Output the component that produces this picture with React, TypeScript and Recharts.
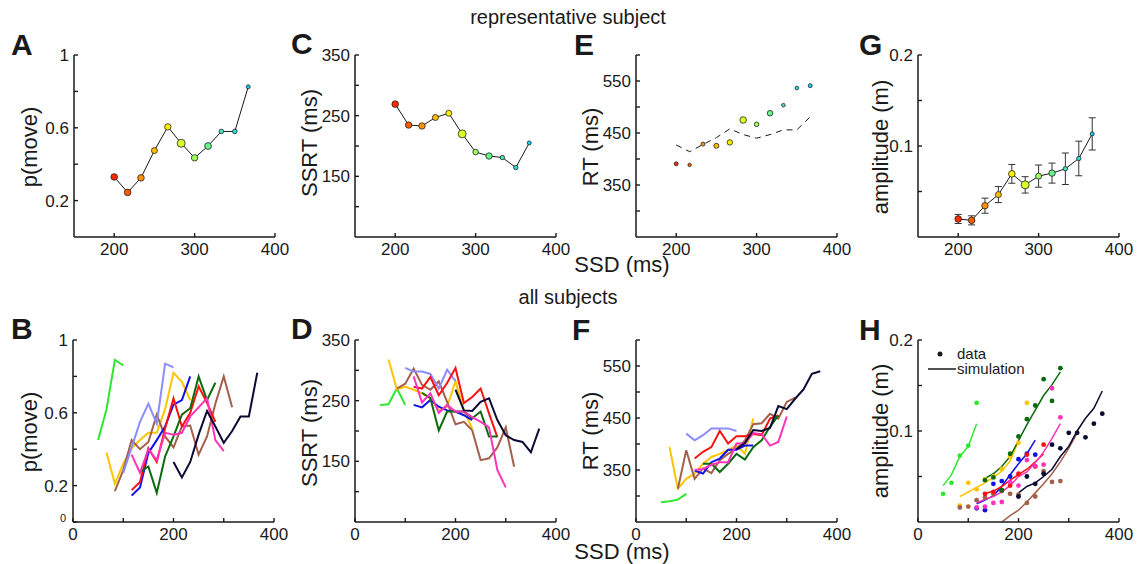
import { ComposedChart, Line, Scatter, XAxis, YAxis, ErrorBar } from 'recharts';

const FONT = '"Liberation Sans", Arial, Helvetica, sans-serif';
const INK = '#1a1a1a';

// ---- representative subject (panels A, C, E, G) ----
const ssd = [200, 216.7, 233.3, 250, 266.7, 283.3, 300, 316.7, 333.3, 350, 366.7];
const ssdColors = ['#ff2a00', '#ff5a00', '#ff9200', '#ffbc00', '#fff000', '#d8ff2a', '#9dff5c', '#68f58a', '#3fe8bd', '#25dcdc', '#18cdf2'];

const pMove = [0.33, 0.245, 0.325, 0.475, 0.605, 0.515, 0.435, 0.5, 0.58, 0.58, 0.825];
const pMoveSize = [3.3, 3.3, 3.3, 3.0, 3.2, 4.0, 3.2, 3.4, 2.3, 2.3, 2.0];

const ssrt = [269, 234.5, 233, 247, 254, 220, 190, 183.5, 181, 164.5, 205];
const ssrtSize = [3.3, 3.2, 3.2, 3.0, 3.0, 4.0, 2.8, 3.2, 2.2, 2.2, 2.0];

const rt = [390.7, 388.7, 428.7, 425.4, 431.9, 475, 466.7, 488, 503.5, 536.5, 541];
const rtSim = [427, 414, 428, 441, 458, 447, 440, 447, 456, 456, 481];
const rtSize = [2.0, 1.7, 2.0, 2.5, 2.7, 3.3, 2.3, 2.8, 1.8, 1.8, 2.0];

const amplitude = [0.0198, 0.0183, 0.0344, 0.0466, 0.0694, 0.0573, 0.0669, 0.0702, 0.075, 0.0863, 0.1133];
const amplitudeErr = [0.005, 0.005, 0.0083, 0.0088, 0.0103, 0.009, 0.0122, 0.011, 0.0173, 0.019, 0.0177];
const amplitudeSize = [3.3, 3.3, 3.2, 3.0, 3.3, 4.0, 3.0, 3.2, 2.2, 2.2, 2.0];

// ---- all subjects (panels B, D, F, H) ----
const ssdGrid = [50, 66.7, 83.3, 100, 116.7, 133.3, 150, 166.7, 183.3, 200, 216.7, 233.3, 250, 266.7, 283.3, 300, 316.7, 333.3, 350, 366.7];
const subjectColors = ['#2ee82e', '#ffc400', '#a3604b', '#8c8cff', '#1010ee', '#ff1010', '#0b6b0b', '#ff33bb', '#0a0a33'];
const subjectStart = [0, 1, 2, 3, 4, 4, 5, 4, 9];

const pMoveAll = [
  [0.45, 0.62, 0.89, 0.86],
  [0.38, 0.21, 0.32, 0.405, 0.45, 0.49, 0.49, 0.62, 0.82, 0.77, 0.67],
  [0.17, 0.285, 0.45, 0.40, 0.44, 0.59, 0.47, 0.41, 0.525, 0.53, 0.37, 0.47, 0.65, 0.80, 0.63],
  [0.27, 0.41, 0.55, 0.65, 0.54, 0.87, 0.85],
  [0.145, 0.19, 0.38, 0.45, 0.525, 0.645, 0.67, 0.80],
  [0.175, 0.22, 0.405, 0.33, 0.515, 0.68, 0.525, 0.60, 0.745, 0.655, 0.55],
  [0.275, 0.305, 0.16, 0.36, 0.47, 0.59, 0.625, 0.80, 0.67, 0.765],
  [0.37, 0.27, 0.40, 0.34, 0.49, 0.48, 0.49, 0.58, 0.63, 0.68, 0.45, 0.39],
  [0.33, 0.245, 0.33, 0.48, 0.61, 0.525, 0.435, 0.50, 0.58, 0.58, 0.82],
];

const ssrtAll = [
  [243, 244, 270, 243],
  [318, 269, 273, 268, 262, 254, 234, 240, 282, 234, 204],
  [270, 278, 303, 276, 268, 282, 248, 211, 215, 201, 152, 155, 173, 206, 141],
  [304, 298, 298, 294, 270, 301, 282],
  [243, 239, 251, 240, 234, 232, 226, 218],
  [273, 270, 289, 259, 279, 304, 246, 256, 270, 229, 190],
  [263, 254, 201, 232, 232, 232, 221, 232, 191, 191],
  [290, 247, 262, 230, 243, 232, 232, 223, 215, 206, 136, 107],
  [268, 234, 233, 248, 254, 218, 193, 185, 182, 165, 204],
];

const rtAll = [
  [288, 290, 293, 304],
  [394, 314, 333, 343, 362, 375, 381, 388, 397, 381, 449],
  [314, 388, 333, 353, 344, 369, 381, 391, 407, 438, 440, 458, 449, 481, 489],
  [420, 407, 417, 430, 430, 430, 425],
  [349, 343, 365, 372, 389, 389, 397, 397],
  [372, 385, 394, 425, 401, 415, 415, 419, 417, 449, 455],
  [362, 362, 346, 362, 381, 370, 394, 407, 433, 455],
  [350, 352, 360, 365, 365, 401, 401, 421, 419, 397, 404, 453],
  [390, 402, 427, 425, 431, 473, 467, 487, 505, 535, 540],
];

// amplitude: data dots and simulation lines (periwinkle subject has none)
const ampDotStart = [0, 2, 2, 3, 4, 5, 5, 4, 9];
const ampDots = [
  [0.031, 0.043, 0.073, 0.084, 0.131],
  [0.018, 0.043, 0.036, 0.047, 0.05, 0.058, 0.072, 0.087, 0.131],
  [0.016, 0.017, 0.024, 0.027, 0.031, 0.034, 0.031, 0.030, 0.021, 0.028, 0.056, 0.044, 0.045],
  [],
  [0.015, 0.013, 0.042, 0.045, 0.050, 0.069, 0.075, 0.074],
  [0.031, 0.033, 0.035, 0.040, 0.053, 0.074, 0.061, 0.085],
  [0.046, 0.049, 0.035, 0.075, 0.094, 0.113, 0.128, 0.157, 0.133, 0.169],
  [0.016, 0.017, 0.021, 0.022, 0.044, 0.040, 0.068, 0.0615, 0.063, 0.147, 0.115],
  [0.028, 0.050, 0.042, 0.053, 0.085, 0.081, 0.098, 0.098, 0.093, 0.108, 0.119],
];
const ampSimStart = [0, 2, 7, 3, 4, 5, 5, 4, 9];
const ampSim = [
  [0.040, 0.052, 0.072, 0.083, 0.108],
  [0.028, 0.033, 0.038, 0.043, 0.049, 0.056, 0.067, 0.089],
  [0.0, 0.007, 0.013, 0.022, 0.032, 0.042, 0.053, 0.066, 0.081, 0.098],
  [],
  [0.020, 0.024, 0.029, 0.039, 0.052, 0.064, 0.075, 0.090],
  [0.031, 0.034, 0.039, 0.046, 0.052, 0.058, 0.066, 0.075],
  [0.048, 0.053, 0.061, 0.072, 0.0895, 0.107, 0.123, 0.139, 0.151, 0.165],
  [0.021, 0.025, 0.028, 0.033, 0.040, 0.050, 0.055, 0.065, 0.077, 0.092, 0.108],
  [0.032, 0.039, 0.043, 0.050, 0.058, 0.072, 0.083, 0.100, 0.114, 0.125, 0.144],
];

const series = (start: number, vals: number[]) => vals.map((v, i) => ({ ssd: ssdGrid[start + i], v }));

const repData = ssd.map((s, i) => ({
  ssd: s,
  color: ssdColors[i],
  pMove: pMove[i],
  pMoveSize: pMoveSize[i],
  ssrt: ssrt[i],
  ssrtSize: ssrtSize[i],
  rt: rt[i],
  rtSim: rtSim[i],
  rtSize: rtSize[i],
  amp: amplitude[i],
  ampErr: amplitudeErr[i],
  ampSize: amplitudeSize[i],
}));

const MARGIN = { top: 10, right: 22, left: 0, bottom: 0 };
const W = 50 + 201 + MARGIN.right;
const H = MARGIN.top + 182 + 30;

function YTick(props: any) {
  const { x, y, payload, labels, small } = props;
  const v = payload.value;
  const big = labels.includes(v);
  const tiny = small && small.includes(v);
  return (
    <g>
      <line x1={x + 5} x2={x + 9} y1={y} y2={y} stroke={INK} strokeWidth={1.4} />
      {(big || tiny) && (
        <text x={tiny ? x - 2 : x} y={tiny ? y - 4 : y} dy="0.36em" textAnchor="end" fontSize={tiny ? 11 : 17} fontFamily={FONT} fill={INK}>
          {v}
        </text>
      )}
    </g>
  );
}

function XTick(props: any) {
  const { x, y, payload, labels } = props;
  const v = payload.value;
  return (
    <g>
      <line x1={x} x2={x} y1={y - 4} y2={y - 8} stroke={INK} strokeWidth={1.4} />
      {labels.includes(v) && (
        <text x={x} y={y + 14} textAnchor="middle" fontSize={17} fontFamily={FONT} fill={INK}>
          {v}
        </text>
      )}
    </g>
  );
}

function axes(bottomRow: boolean, yDomain: number[], yTicks: number[], yLabels: number[], ySmall: number[] = []) {
  const xDomain = bottomRow ? [0, 400] : [150, 400];
  const xTicks = bottomRow ? [0, 100, 200, 300, 400] : [200, 300, 400];
  const xLabels = bottomRow ? [0, 200, 400] : [200, 300, 400];
  return [
    <XAxis
      key="x"
      dataKey="ssd"
      type="number"
      domain={xDomain}
      ticks={xTicks}
      interval={0}
      allowDataOverflow
      height={30}
      tickSize={0}
      tickMargin={4}
      axisLine={{ stroke: INK, strokeWidth: 1.5 }}
      tickLine={false}
      tick={(p: any) => <XTick {...p} labels={xLabels} />}
    />,
    <YAxis
      key="y"
      type="number"
      domain={yDomain}
      ticks={yTicks}
      interval={0}
      allowDataOverflow
      width={50}
      tickSize={0}
      tickMargin={5}
      axisLine={{ stroke: INK, strokeWidth: 1.5 }}
      tickLine={false}
      tick={(p: any) => <YTick {...p} labels={yLabels} small={ySmall} />}
    />,
  ];
}

const box = (plotLeft: number, plotTop: number): React.CSSProperties => ({
  position: 'absolute',
  left: plotLeft - 50,
  top: plotTop - MARGIN.top,
});

const condDot = (sizeKey: string) => (p: any) => (
  <circle key={`d${p.index}`} cx={p.cx} cy={p.cy} r={p.payload[sizeKey]} fill={p.payload.color} stroke="#222" strokeWidth={0.8} />
);

const P_TICKS = [0, 0.2, 0.4, 0.6, 0.8, 1];
const SSRT_TICKS = [100, 150, 200, 250, 300, 350];
const RT_TICKS = [300, 350, 400, 450, 500, 550, 600];
const AMP_TICKS = [0.05, 0.1, 0.15, 0.2];

export default function App() {
  const TOP = 55;
  const BOT = 340;
  return (
    <div style={{ position: 'absolute', left: 0, top: 0, width: 1137, height: 564, background: '#fff', fontFamily: FONT }}>
      {/* A */}
      <div style={box(74, TOP)}>
        <ComposedChart width={W} height={H} data={repData} margin={MARGIN}>
          {axes(false, [0, 1], P_TICKS.slice(1), [0.2, 0.6, 1])}
          <Line dataKey="pMove" stroke={INK} strokeWidth={1} dot={condDot('pMoveSize')} isAnimationActive={false} />
        </ComposedChart>
      </div>
      {/* C */}
      <div style={box(355, TOP)}>
        <ComposedChart width={W} height={H} data={repData} margin={MARGIN}>
          {axes(false, [50, 350], SSRT_TICKS, [150, 250, 350])}
          <Line dataKey="ssrt" stroke={INK} strokeWidth={1} dot={condDot('ssrtSize')} isAnimationActive={false} />
        </ComposedChart>
      </div>
      {/* E */}
      <div style={box(636, TOP)}>
        <ComposedChart width={W} height={H} data={repData} margin={MARGIN}>
          {axes(false, [250, 600], RT_TICKS, [350, 450, 550])}
          <Line dataKey="rtSim" stroke={INK} strokeWidth={1} strokeDasharray="6 5" dot={false} isAnimationActive={false} />
          <Scatter dataKey="rt" shape={condDot('rtSize')} isAnimationActive={false} />
        </ComposedChart>
      </div>
      {/* G */}
      <div style={box(918, TOP)}>
        <ComposedChart width={W} height={H} data={repData} margin={MARGIN}>
          {axes(false, [0, 0.2], AMP_TICKS, [0.1, 0.2])}
          <Line dataKey="amp" stroke={INK} strokeWidth={1} dot={condDot('ampSize')} isAnimationActive={false}>
            <ErrorBar dataKey="ampErr" width={3.5} stroke="#333" strokeWidth={1} direction="y" />
          </Line>
        </ComposedChart>
      </div>

      {/* B */}
      <div style={box(73, BOT)}>
        <ComposedChart width={W} height={H} margin={MARGIN}>
          {axes(true, [0, 1], P_TICKS, [0.2, 0.6, 1], [0])}
          {pMoveAll.map((vals, i) => (
            <Line key={`b${i}`} data={series(subjectStart[i], vals)} dataKey="v" stroke={subjectColors[i]} strokeWidth={2} dot={false} isAnimationActive={false} />
          ))}
        </ComposedChart>
      </div>
      {/* D */}
      <div style={box(355, BOT)}>
        <ComposedChart width={W} height={H} margin={MARGIN}>
          {axes(true, [50, 350], SSRT_TICKS, [150, 250, 350])}
          {ssrtAll.map((vals, i) => (
            <Line key={`d${i}`} data={series(subjectStart[i], vals)} dataKey="v" stroke={subjectColors[i]} strokeWidth={2} dot={false} isAnimationActive={false} />
          ))}
        </ComposedChart>
      </div>
      {/* F */}
      <div style={box(636, BOT)}>
        <ComposedChart width={W} height={H} margin={MARGIN}>
          {axes(true, [250, 600], RT_TICKS, [350, 450, 550])}
          {rtAll.map((vals, i) => (
            <Line key={`f${i}`} data={series(subjectStart[i], vals)} dataKey="v" stroke={subjectColors[i]} strokeWidth={2} dot={false} isAnimationActive={false} />
          ))}
        </ComposedChart>
      </div>
      {/* H */}
      <div style={box(918, BOT)}>
        <ComposedChart width={W} height={H} margin={MARGIN}>
          {axes(true, [0, 0.2], AMP_TICKS, [0.1, 0.2])}
          {ampSim.map((vals, i) =>
            vals.length ? (
              <Line key={`hs${i}`} data={series(ampSimStart[i], vals)} dataKey="v" stroke={subjectColors[i]} strokeWidth={1.5} dot={false} isAnimationActive={false} />
            ) : null
          )}
          {ampDots.map((vals, i) =>
            vals.length ? (
              <Scatter
                key={`hd${i}`}
                data={series(ampDotStart[i], vals)}
                dataKey="v"
                isAnimationActive={false}
                shape={(p: any) => <circle cx={p.cx} cy={p.cy} r={2.4} fill={subjectColors[i]} />}
              />
            ) : null
          )}
        </ComposedChart>
      </div>

      {/* figure text */}
      <svg width={1137} height={564} style={{ position: 'absolute', left: 0, top: 0, pointerEvents: 'none' }} fontFamily={FONT} fill={INK}>
        <text x={568} y={24} fontSize={20} textAnchor="middle">representative subject</text>
        <text x={568} y={304} fontSize={20} textAnchor="middle">all subjects</text>
        <text x={622} y={272} fontSize={22} textAnchor="middle">SSD (ms)</text>
        <text x={622} y={559} fontSize={22} textAnchor="middle">SSD (ms)</text>

        {[
          ['A', 11, 55], ['C', 291, 54], ['E', 574, 55], ['G', 859, 55],
          ['B', 11, 339], ['D', 291, 339], ['F', 572, 340], ['H', 859, 340],
        ].map(([t, x, y]) => (
          <text key={t as string} x={x as number} y={y as number} fontSize={30} fontWeight="bold">{t}</text>
        ))}

        {[
          ['p(move)', 29, 147], ['SSRT (ms)', 309, 143], ['RT (ms)', 590, 147], ['amplitude (m)', 880, 147],
          ['p(move)', 29, 432], ['SSRT (ms)', 309, 433], ['RT (ms)', 590, 431], ['amplitude (m)', 880, 431],
        ].map(([t, x, y], i) => (
          <text key={i} x={x as number} y={y as number} dy="0.35em" fontSize={22} textAnchor="middle" transform={`rotate(-90 ${x} ${y})`}>
            {t}
          </text>
        ))}

        {/* legend of panel H */}
        <circle cx={940} cy={354} r={2.5} fill={INK} />
        <text x={957} y={359} fontSize={15}>data</text>
        <line x1={928} x2={956} y1={369} y2={369} stroke={INK} strokeWidth={1.5} />
        <text x={957} y={374} fontSize={15}>simulation</text>
      </svg>
    </div>
  );
}
